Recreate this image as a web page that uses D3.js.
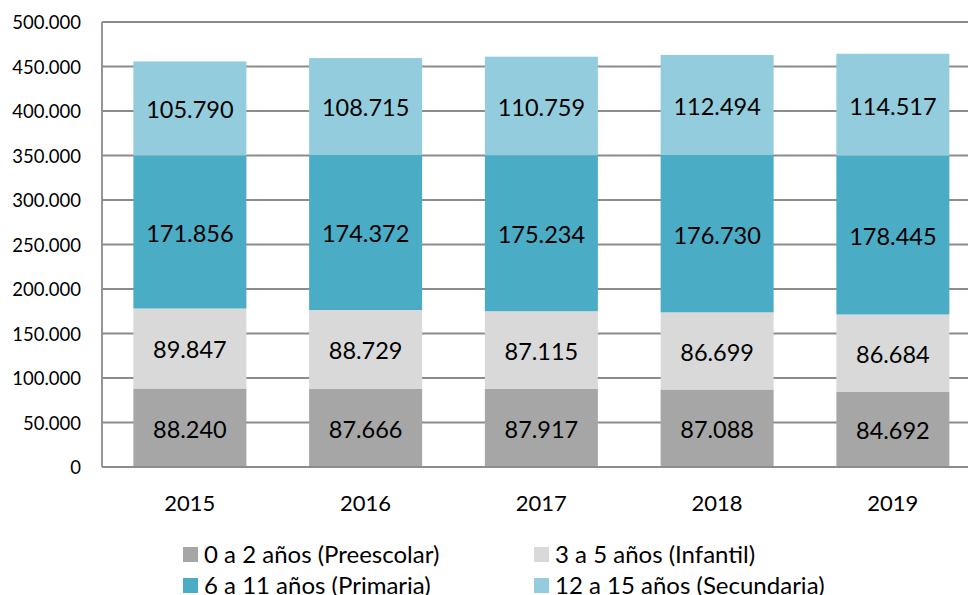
<!DOCTYPE html>
<html><head><meta charset="utf-8">
<script src="https://cdn.jsdelivr.net/npm/d3@7"></script>
<style>body{margin:0;background:#fff;overflow:hidden}svg{display:block}text{font-family:Lato,"Open Sans",sans-serif;fill:#000}</style>
</head><body>
<svg id="c" width="968" height="595"></svg>
<script>
const years = ["2015","2016","2017","2018","2019"];
const seriesNames = ["0 a 2 años (Preescolar)","3 a 5 años (Infantil)","6 a 11 años (Primaria)","12 a 15 años (Secundaria)"];
const preescolar = [88240, 87666, 87917, 87088, 84692];
const infantil = [89847, 88729, 87115, 86699, 86684];
const primaria = [171856, 174372, 175234, 176730, 178445];
const secundaria = [105790, 108715, 110759, 112494, 114517];
const yTicks = [0,50000,100000,150000,200000,250000,300000,350000,400000,450000,500000];
const colors = ["#a6a6a6","#d9d9d9","#4bacc6","#93cddd"];

const seriesVals = [preescolar, infantil, primaria, secundaria];
const rows = years.map((y,i)=>{const r={year:y}; seriesNames.forEach((s,k)=>r[s]=seriesVals[k][i]); return r;});
const stack = d3.stack().keys(seriesNames)(rows);

const svg = d3.select("#c");
const x = d3.scaleBand().domain(years).range([102, 980.75]).paddingInner(0.357).paddingOuter(0.1785);
const y = d3.scaleLinear().domain([0,500000]).range([467,22]);
const fmt = v => d3.format(",")(v).replace(/,/g,".");

// gridlines
svg.append("g").selectAll("line").data(yTicks.filter(t=>t>0)).join("line")
  .attr("x1",102).attr("x2",968).attr("y1",d=>y(d)).attr("y2",d=>y(d))
  .attr("stroke","#8c8c8c").attr("stroke-width",1.8);

// y axis labels
svg.append("g").selectAll("text").data(yTicks).join("text")
  .attr("x",81).attr("y",d=>y(d)).attr("text-anchor","end").attr("dominant-baseline","central")
  .style("font-size","18.5px").text(d=>fmt(d));

// bars
const g = svg.append("g");
stack.forEach((s,k)=>{
  g.append("g").selectAll("rect").data(s).join("rect")
    .attr("x",d=>x(d.data.year)).attr("width",x.bandwidth())
    .attr("y",d=>y(d[1])).attr("height",d=>y(d[0])-y(d[1]))
    .attr("fill",colors[k]);
  g.append("g").selectAll("text").data(s).join("text")
    .attr("x",d=>x(d.data.year)+x.bandwidth()/2).attr("y",d=>(y(d[0])+y(d[1]))/2+1)
    .attr("text-anchor","middle").attr("dominant-baseline","central")
    .style("font-size","23.5px").text(d=>fmt(d[1]-d[0]));
});

// axes lines
svg.append("line").attr("x1",102).attr("x2",102).attr("y1",22).attr("y2",467).attr("stroke","#8c8c8c").attr("stroke-width",1.8);
svg.append("line").attr("x1",102).attr("x2",968).attr("y1",467).attr("y2",467).attr("stroke","#8c8c8c").attr("stroke-width",1.8);

// x labels
svg.append("g").selectAll("text").data(years).join("text")
  .attr("x",d=>x(d)+x.bandwidth()/2).attr("y",502).attr("text-anchor","middle").attr("dominant-baseline","central")
  .style("font-size","22px").text(d=>d);

// legend
const legPos = [[183,547],[534,547],[183,578],[534,578]];
const leg = svg.append("g");
seriesNames.forEach((n,k)=>{
  const [lx,ly] = legPos[k];
  leg.append("rect").attr("x",lx).attr("y",ly).attr("width",15).attr("height",15).attr("fill",colors[k]);
  leg.append("text").attr("x",lx+21).attr("y",ly+6).attr("dominant-baseline","central")
    .style("font-size","24px").text(n);
});
</script>
</body></html>
